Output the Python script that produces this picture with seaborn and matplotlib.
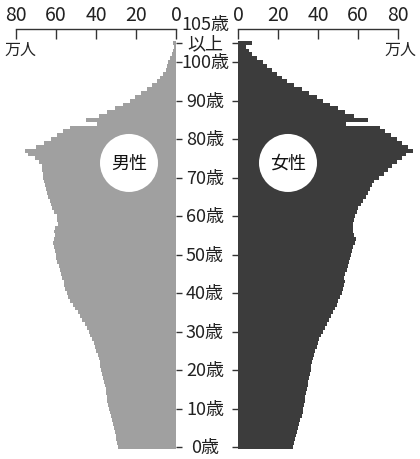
import numpy as np
import pandas as pd
import seaborn as sns
import matplotlib.pyplot as plt
from matplotlib import transforms

# 年齢 (105 = 105歳以上)
ages = list(range(0, 106))

# 男性 (万人), 0歳 .. 104歳, 105歳以上
male = [
    29.0, 29.4, 29.8, 30.2, 30.6, 31.0, 31.4, 31.8, 32.6, 33.2,
    33.6, 34.0, 34.3, 34.6, 34.9, 35.2, 35.6, 36.0, 36.5, 37.0,
    37.4, 37.8, 38.2, 38.7, 39.2, 39.8, 40.5, 41.2, 42.0, 42.8,
    43.6, 44.6, 45.7, 46.9, 48.0, 49.2, 50.4, 51.6, 52.8, 53.8,
    54.6, 55.3, 55.8, 56.2, 57.0, 57.6, 58.0, 58.6, 59.5, 60.0,
    60.2, 60.5, 61.0, 61.3, 60.8, 60.5, 61.2, 60.6, 58.8, 59.4,
    59.7, 60.8, 61.8, 62.6, 63.2, 63.8, 64.4, 65.0, 65.5, 66.0,
    66.3, 66.5, 66.8, 67.0, 68.6, 70.5, 74.0, 75.5, 70.0, 66.0,
    62.5, 59.5, 56.3, 53.0, 39.5, 45.0, 38.5, 34.5, 30.5, 26.3,
    23.0, 20.5, 17.5, 14.7, 12.0, 9.7, 8.0, 6.3, 5.0, 4.3,
    3.8, 3.0, 2.2, 1.6, 1.0, 1.3,
]

# 女性 (万人)
female = [
    27.7, 28.1, 28.6, 29.1, 29.6, 30.1, 30.6, 31.1, 31.8, 32.4,
    32.7, 33.0, 33.3, 33.6, 34.0, 34.4, 34.8, 35.2, 35.7, 36.0,
    36.3, 36.7, 37.1, 37.6, 38.1, 38.7, 39.3, 39.9, 40.6, 41.6,
    42.6, 43.6, 44.6, 45.6, 46.6, 47.6, 48.6, 49.5, 50.2, 51.0,
    51.8, 52.7, 53.0, 53.3, 53.0, 53.5, 54.3, 54.8, 55.5, 55.8,
    56.3, 56.8, 57.5, 58.5, 59.0, 58.0, 57.7, 57.7, 57.6, 58.0,
    58.5, 59.3, 60.2, 61.3, 62.4, 64.0, 65.0, 66.0, 67.0, 68.0,
    70.5, 73.0, 75.0, 77.0, 79.5, 82.0, 84.0, 87.5, 85.0, 82.0,
    79.5, 76.5, 73.5, 71.0, 54.0, 65.0, 58.0, 53.5, 50.0, 46.0,
    42.5, 39.5, 35.5, 32.0, 28.0, 24.5, 22.0, 19.5, 17.0, 14.5,
    12.3, 9.5, 7.0, 5.5, 4.0, 6.8,
]

tick_ages = [0, 10, 20, 30, 40, 50, 60, 70, 80, 90, 100, 105]
tick_labels = ['0歳', '10歳', '20歳', '30歳', '40歳', '50歳', '60歳', '70歳',
               '80歳', '90歳', '100歳', '以上']
x_ticks = [0, 20, 40, 60, 80]

df = pd.DataFrame({'年齢': ages, '男性': male, '女性': female})

sns.set_theme(style='white')
plt.rcParams['font.family'] = ['Noto Sans CJK JP', 'DejaVu Sans']
num_font = ['Liberation Sans Narrow', 'Noto Sans CJK JP']

W, H = 420, 460
fig = plt.figure(figsize=(4.2, 4.6), dpi=100)
top = 1 - 30 / H
bottom = 1 - 450 / H
ax_m = fig.add_axes([0, bottom, 176 / W, top - bottom])
ax_f = fig.add_axes([238 / W, bottom, 182 / W, top - bottom])

sns.barplot(data=df, x='男性', y='年齢', orient='y', native_scale=True,
            width=1, color='#a0a0a0', saturation=1, errorbar=None,
            linewidth=0, ax=ax_m)
sns.barplot(data=df, x='女性', y='年齢', orient='y', native_scale=True,
            width=1, color='#3c3c3c', saturation=1, errorbar=None,
            linewidth=0, ax=ax_f)

ymin, ymax = -0.5, 108.6
ax_m.set_xlim(88, 0)
ax_f.set_xlim(0, 91)
for ax in (ax_m, ax_f):
    ax.set_ylim(ymin, ymax)
    ax.set_xlabel('')
    ax.set_ylabel('')
    ax.set_facecolor('none')
    for s in ('left', 'right', 'bottom'):
        ax.spines[s].set_visible(False)
    ax.spines['top'].set_bounds(0, 80)
    ax.spines['top'].set_color('#333333')
    ax.spines['top'].set_linewidth(1.0)
    ax.xaxis.tick_top()
    ax.set_xticks(x_ticks)
    ax.set_xticklabels([str(v) for v in x_ticks], family=num_font)
    ax.tick_params(axis='x', direction='in', length=7, width=1,
                   color='#333333', pad=3, labelsize=14, labelcolor='#222222')
    ax.set_yticks(tick_ages)
    ax.tick_params(axis='y', direction='out', length=4, width=1,
                   color='#333333', labelleft=False, labelright=False)
    ax.grid(False)

ax_m.yaxis.tick_right()
ax_m.tick_params(axis='y', labelright=False)
ax_f.yaxis.tick_left()
ax_f.tick_params(axis='y', labelleft=False)

# 年齢ラベル (中央)
trans = transforms.blended_transform_factory(fig.transFigure, ax_m.transData)
for a, lab in zip(tick_ages, tick_labels):
    ax_m.text(205 / W, a, lab, transform=trans, ha='center', va='center',
              fontsize=13, family=num_font, color='#222222', clip_on=False)
ax_m.text(205 / W, 110.0, '105歳', transform=trans, ha='center', va='center',
          fontsize=13, family=num_font, color='#222222', clip_on=False)

# 単位
fig.text(20 / W, 1 - 50 / H, '万人', ha='center', va='center', fontsize=11.5,
         color='#222222')
fig.text(400 / W, 1 - 50 / H, '万人', ha='center', va='center', fontsize=11.5,
         color='#222222')

# 男性・女性ラベル
ax_m.scatter([23.5], [73.8], s=1745, color='white', edgecolor='none',
             zorder=5, clip_on=False)
ax_m.text(23.5, 73.8, '男性', ha='center', va='center', fontsize=13,
          color='#111111', zorder=6)
ax_f.scatter([25.0], [73.8], s=1745, color='white', edgecolor='none',
             zorder=5, clip_on=False)
ax_f.text(25.0, 73.8, '女性', ha='center', va='center', fontsize=13,
          color='#111111', zorder=6)

fig.savefig('out.png', dpi=100)
